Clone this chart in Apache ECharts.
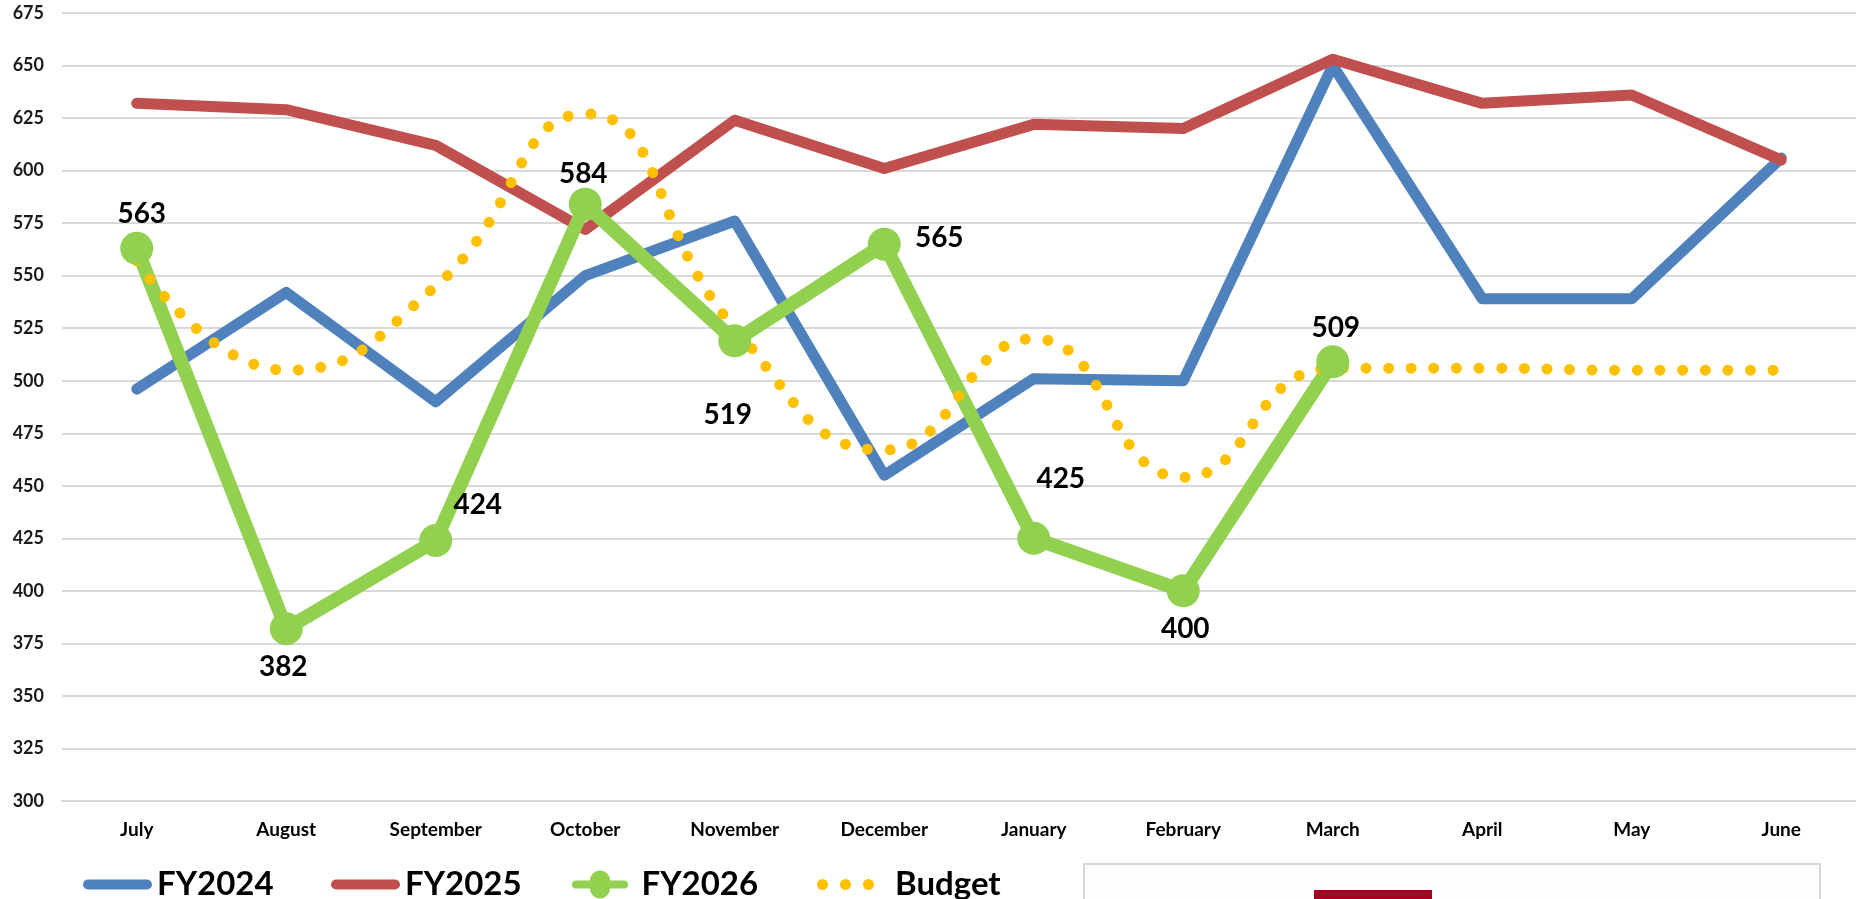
<!DOCTYPE html>
<html>
<head>
<meta charset="utf-8">
<script src="https://cdn.jsdelivr.net/npm/echarts@6/dist/echarts.min.js"></script>
<style>
    html, body { margin: 0; padding: 0; background: #fff; }
    #chart { width: 1856px; height: 899px; }
</style>
</head>
<body>
<div id="chart"></div>
<script>
// categories and values
var months = ['July', 'August', 'September', 'October', 'November', 'December',
              'January', 'February', 'March', 'April', 'May', 'June'];
var fy2024 = [496, 542, 490, 550, 576, 455, 501, 500, 650, 539, 539, 606];
var fy2025 = [632, 629, 612, 572, 624, 601, 622, 620, 653, 632, 636, 605];
var fy2026 = [563, 382, 424, 584, 519, 565, 425, 400, 509, null, null, null];
var budget = [557, 505, 545, 627, 525, 467, 520, 454, 506, 506, 505, 505];
var yTicks = { min: 300, max: 675, step: 25 };

// where each FY2026 label sits relative to its point
var labelOffsets = [[5, -34], [-3, 38], [42, -35], [-2, -30], [-7, 74],
                    [55, -6], [27, -59], [2, 38], [3, -34]];

var FONT = 'Lato';
// legend icons drawn like the Excel ones (thick bar, bar + marker, dots)
var ICON_BAR = 'path://M5,0 L63,0 A5,5 0 0 1 63,10 L5,10 A5,5 0 0 1 5,0 Z';
var ICON_MARK = 'path://M5,8 L23,8 A13,13 0 0 1 49,8 L67,8 A5,5 0 0 1 67,18 L49,18 A13,13 0 0 1 23,18 L5,18 A5,5 0 0 1 5,8 Z';
var ICON_DOTS = 'path://M0,5.5 A5.5,5.5 0 1 0 11,5.5 A5.5,5.5 0 1 0 0,5.5 Z M23,5.5 A5.5,5.5 0 1 0 34,5.5 A5.5,5.5 0 1 0 23,5.5 Z M46,5.5 A5.5,5.5 0 1 0 57,5.5 A5.5,5.5 0 1 0 46,5.5 Z';

var myChart = echarts.init(document.getElementById('chart'));

var fy2026Data = fy2026.map(function (v, i) {
    if (v == null) return null;
    return { value: v, label: { offset: labelOffsets[i] } };
});

function legendItem(name, icon, left, width, pad) {
    return {
        left: left,
        top: 863,
        itemWidth: width,
        itemHeight: 28,
        textStyle: {
            fontFamily: FONT,
            fontSize: 33,
            fontWeight: 'bold',
            color: '#000',
            padding: [0, 0, 0, pad || 0]
        },
        data: [{ name: name, icon: icon }]
    };
}

myChart.setOption({
    animation: false,
    backgroundColor: '#fff',
    grid: {
        left: 62,
        right: -8,
        top: 13,
        bottom: 98
    },
    legend: [
        legendItem('FY2024', ICON_BAR, 78, 69),
        legendItem('FY2025', ICON_BAR, 326, 69),
        legendItem('FY2026', ICON_MARK, 567, 73),
        legendItem('Budget', ICON_DOTS, 812, 57, 16)
    ],
    xAxis: {
        type: 'category',
        data: months,
        boundaryGap: true,
        axisTick: { show: false },
        axisLine: { lineStyle: { color: '#D9D9D9', width: 2 } },
        axisLabel: {
            margin: 19,
            fontFamily: FONT,
            fontSize: 19,
            fontWeight: 'bold',
            color: '#000',
            interval: 0
        }
    },
    yAxis: {
        type: 'value',
        min: yTicks.min,
        max: yTicks.max,
        interval: yTicks.step,
        axisLine: { show: false },
        axisTick: { show: false },
        splitLine: { lineStyle: { color: '#D9D9D9', width: 2 } },
        axisLabel: {
            margin: 18,
            fontFamily: FONT,
            fontSize: 18,
            fontWeight: 'bold',
            color: '#1a1a1a'
        }
    },
    series: [{
        name: 'FY2024',
        type: 'line',
        data: fy2024,
        symbol: 'none',
        lineStyle: { color: '#4F81BD', width: 11, join: 'round', cap: 'round' },
        itemStyle: { color: '#4F81BD' }
    }, {
        name: 'FY2025',
        type: 'line',
        data: fy2025,
        symbol: 'none',
        lineStyle: { color: '#C0504D', width: 11, join: 'round', cap: 'round' },
        itemStyle: { color: '#C0504D' }
    }, {
        name: 'FY2026',
        type: 'line',
        data: fy2026Data,
        symbol: 'circle',
        symbolSize: 33,
        showAllSymbol: true,
        lineStyle: { color: '#92D050', width: 14, join: 'round', cap: 'round' },
        itemStyle: { color: '#92D050' },
        label: {
            show: true,
            position: 'inside',
            fontFamily: FONT,
            fontSize: 28,
            fontWeight: 'bold',
            color: '#000'
        }
    }, {
        name: 'Budget',
        type: 'line',
        data: budget,
        smooth: true,
        symbol: 'none',
        lineStyle: { color: '#FFC000', width: 11, type: [0.01, 22.6], cap: 'round' },
        itemStyle: { color: '#FFC000' }
    }],
    graphic: [{
        type: 'rect',
        shape: { x: 1084, y: 864, width: 736, height: 60 },
        style: { fill: '#FDFDFD', stroke: '#D9D9D9', lineWidth: 2 }
    }, {
        type: 'rect',
        shape: { x: 1314, y: 890, width: 118, height: 20 },
        style: { fill: '#A50021' }
    }]
});

window.addEventListener('resize', function () {
    myChart.resize();
});
</script>
</body>
</html>
